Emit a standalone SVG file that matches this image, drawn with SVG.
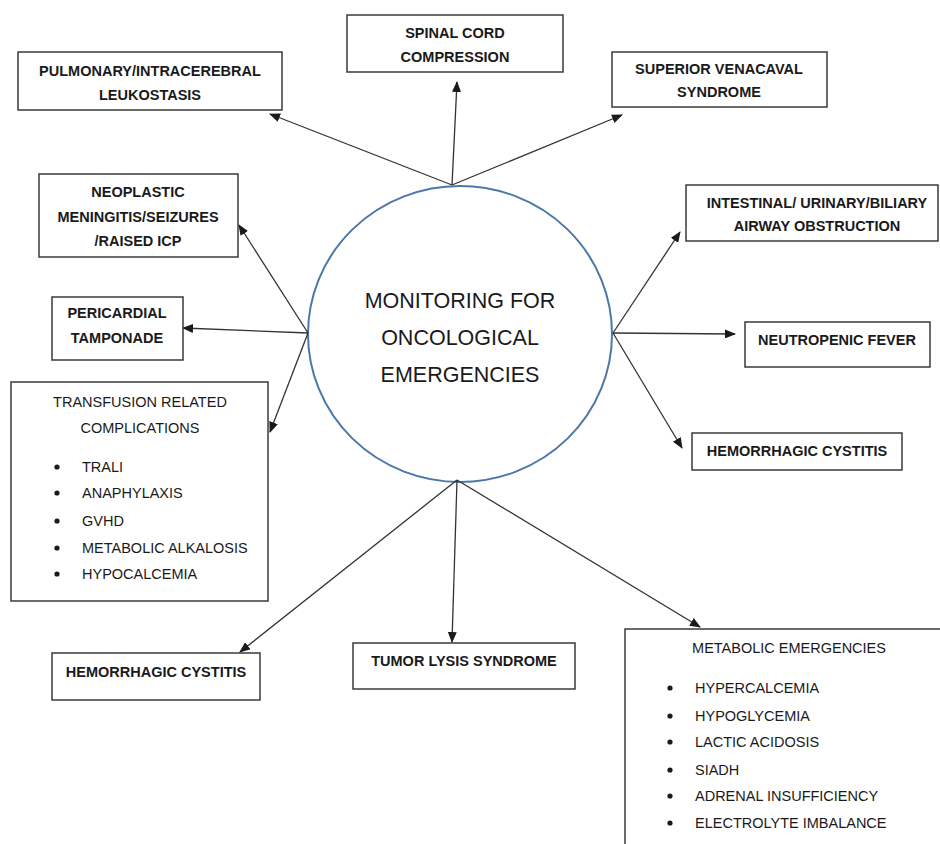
<svg xmlns="http://www.w3.org/2000/svg" width="940" height="844" viewBox="0 0 940 844">
<style>
.box{fill:#fff;stroke:#3a3a3a;stroke-width:1.5}
.b{font-family:"Liberation Sans",Arial,sans-serif;font-weight:bold;font-size:14.5px;fill:#1a1a1a;text-anchor:middle}
.r{font-family:"Liberation Sans",Arial,sans-serif;font-size:14.5px;fill:#1a1a1a}
.rc{text-anchor:middle}
.hub{font-family:"Liberation Sans",Arial,sans-serif;font-size:21.5px;fill:#1a1a1a;text-anchor:middle}
.con line{stroke:#333;stroke-width:1.3;marker-end:url(#ah)}
.dot{fill:#1a1a1a}
</style>
<defs>
<marker id="ah" markerUnits="userSpaceOnUse" markerWidth="11" markerHeight="9" refX="10" refY="4.5" orient="auto">
<path d="M0,0 L11,4.5 L0,9 z" fill="#1a1a1a"/>
</marker>
</defs>
<rect width="940" height="844" fill="#fff"/>

<g id="center">
<ellipse cx="460" cy="334" rx="152" ry="148" fill="#fff" stroke="#4a78aa" stroke-width="2"/>
<text class="hub" x="460" y="308">MONITORING FOR</text>
<text class="hub" x="460" y="345">ONCOLOGICAL</text>
<text class="hub" x="460" y="382">EMERGENCIES</text>
</g>

<g class="con" id="connectors">
<line x1="452" y1="185" x2="270" y2="114"/>
<line x1="452" y1="185" x2="457" y2="82"/>
<line x1="452" y1="185" x2="622" y2="115"/>
<line x1="308" y1="333" x2="239" y2="225"/>
<line x1="308" y1="333" x2="183" y2="328"/>
<line x1="308" y1="333" x2="270" y2="432"/>
<line x1="613" y1="333" x2="680" y2="232"/>
<line x1="613" y1="333" x2="735" y2="334"/>
<line x1="613" y1="333" x2="682" y2="448"/>
<line x1="457" y1="480" x2="240" y2="652"/>
<line x1="457" y1="480" x2="452" y2="642"/>
<line x1="457" y1="480" x2="700" y2="627"/>
</g>

<g id="pulmonary">
<rect class="box" x="18" y="52" width="264" height="58"/>
<text class="b" x="150" y="76">PULMONARY/INTRACEREBRAL</text>
<text class="b" x="150" y="100">LEUKOSTASIS</text>
</g>

<g id="spinal">
<rect class="box" x="347" y="15" width="216" height="57"/>
<text class="b" x="455" y="38">SPINAL CORD</text>
<text class="b" x="455" y="62">COMPRESSION</text>
</g>

<g id="svc">
<rect class="box" x="612" y="52" width="215" height="55"/>
<text class="b" x="719" y="74">SUPERIOR VENACAVAL</text>
<text class="b" x="719" y="97">SYNDROME</text>
</g>

<g id="neoplastic">
<rect class="box" x="39" y="174" width="199" height="83"/>
<text class="b" x="138" y="197">NEOPLASTIC</text>
<text class="b" x="138" y="222">MENINGITIS/SEIZURES</text>
<text class="b" x="138" y="246">/RAISED ICP</text>
</g>

<g id="pericardial">
<rect class="box" x="52" y="297" width="131" height="63"/>
<text class="b" x="117" y="318">PERICARDIAL</text>
<text class="b" x="117" y="343">TAMPONADE</text>
</g>

<g id="transfusion">
<rect class="box" x="11" y="382" width="257" height="219"/>
<text class="r rc" x="140" y="407">TRANSFUSION RELATED</text>
<text class="r rc" x="140" y="433">COMPLICATIONS</text>
<circle class="dot" cx="57" cy="467" r="2.6"/>
<circle class="dot" cx="57" cy="493" r="2.6"/>
<circle class="dot" cx="57" cy="521" r="2.6"/>
<circle class="dot" cx="57" cy="548" r="2.6"/>
<circle class="dot" cx="57" cy="574" r="2.6"/>
<text class="r" x="82" y="472">TRALI</text>
<text class="r" x="82" y="498">ANAPHYLAXIS</text>
<text class="r" x="82" y="526">GVHD</text>
<text class="r" x="82" y="553">METABOLIC ALKALOSIS</text>
<text class="r" x="82" y="579">HYPOCALCEMIA</text>
</g>

<g id="intestinal">
<rect class="box" x="686" y="185" width="252" height="56"/>
<text class="b" x="817" y="208">INTESTINAL/ URINARY/BILIARY</text>
<text class="b" x="817" y="231">AIRWAY OBSTRUCTION</text>
</g>

<g id="neutropenic">
<rect class="box" x="745" y="322" width="185" height="45"/>
<text class="b" x="837" y="345">NEUTROPENIC FEVER</text>
</g>

<g id="hemorrhagic-right">
<rect class="box" x="692" y="433" width="210" height="37"/>
<text class="b" x="797" y="456">HEMORRHAGIC CYSTITIS</text>
</g>

<g id="hemorrhagic-left">
<rect class="box" x="52" y="653" width="208" height="47"/>
<text class="b" x="156" y="677">HEMORRHAGIC CYSTITIS</text>
</g>

<g id="tumor-lysis">
<rect class="box" x="353" y="643" width="222" height="46"/>
<text class="b" x="464" y="666">TUMOR LYSIS SYNDROME</text>
</g>

<g id="metabolic">
<rect class="box" x="625" y="629" width="340" height="240"/>
<text class="r rc" x="789" y="653">METABOLIC EMERGENCIES</text>
<circle class="dot" cx="670" cy="688" r="2.6"/>
<circle class="dot" cx="670" cy="716" r="2.6"/>
<circle class="dot" cx="670" cy="742" r="2.6"/>
<circle class="dot" cx="670" cy="770" r="2.6"/>
<circle class="dot" cx="670" cy="796" r="2.6"/>
<circle class="dot" cx="670" cy="823" r="2.6"/>
<text class="r" x="695" y="693">HYPERCALCEMIA</text>
<text class="r" x="695" y="721">HYPOGLYCEMIA</text>
<text class="r" x="695" y="747">LACTIC ACIDOSIS</text>
<text class="r" x="695" y="775">SIADH</text>
<text class="r" x="695" y="801">ADRENAL INSUFFICIENCY</text>
<text class="r" x="695" y="828">ELECTROLYTE IMBALANCE</text>
</g>
</svg>
